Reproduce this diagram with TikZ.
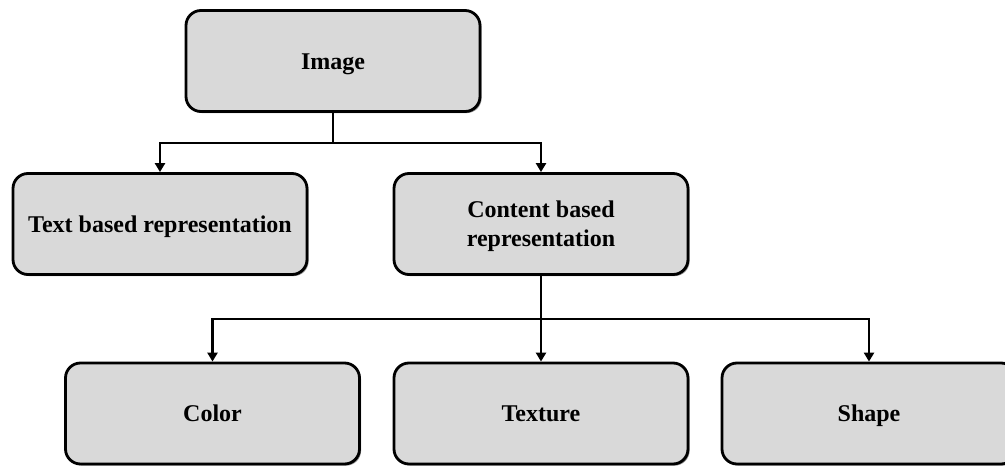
\documentclass[tikz,border=0pt]{standalone}
\usepackage{fontspec}
\setmainfont{Liberation Serif}
\usetikzlibrary{arrows.meta,shadows}
\definecolor{boxgray}{HTML}{D9D9D9}
\tikzset{
  box/.style={draw=black, line width=2.8pt, fill=boxgray, rounded corners=15pt,
    minimum width=294pt, minimum height=101pt, align=center, inner sep=0pt,
    font=\bfseries\fontsize{24}{29}\selectfont, text depth=0pt,
    drop shadow={shadow xshift=1.6pt, shadow yshift=-1.6pt, opacity=0.45, fill=black}},
  oneline/.style={text height=16pt},
  link/.style={line width=2.8pt, black},
  arr/.style={link, -{Triangle[length=9pt,width=10pt]}}
}
\begin{document}
\begin{tikzpicture}[x=1pt,y=-1pt]
  \useasboundingbox (0,0) rectangle (1005,466);
  \clip (0,0) rectangle (1005,466);
  % tree nodes
  \node[box,oneline] (img) at (333,61) {Image};
  \node[box,oneline] (txt) at (160,224) {Text based representation};
  \node[box] (cnt) at (541,224) {Content based\\representation};
  \node[box,oneline] (col) at (212.5,413.5) {Color};
  \node[box,oneline] (tex) at (541,413.5) {Texture};
  \node[box,oneline] (shp) at (869,413.5) {Shape};
  % junctions
  \coordinate (j1) at (333,143);
  \coordinate (j2) at (541,319);
  % first level
  \draw[link] (img.south) -- (j1);
  \draw[arr] (j1) -| (txt.north);
  \draw[arr] (j1) -| (cnt.north);
  % second level
  \draw[link] (cnt.south) -- (j2);
  \draw[arr] (j2) -| (col.north);
  \draw[arr] (j2) -- (tex.north);
  \draw[arr] (j2) -| (shp.north);
\end{tikzpicture}
\end{document}
